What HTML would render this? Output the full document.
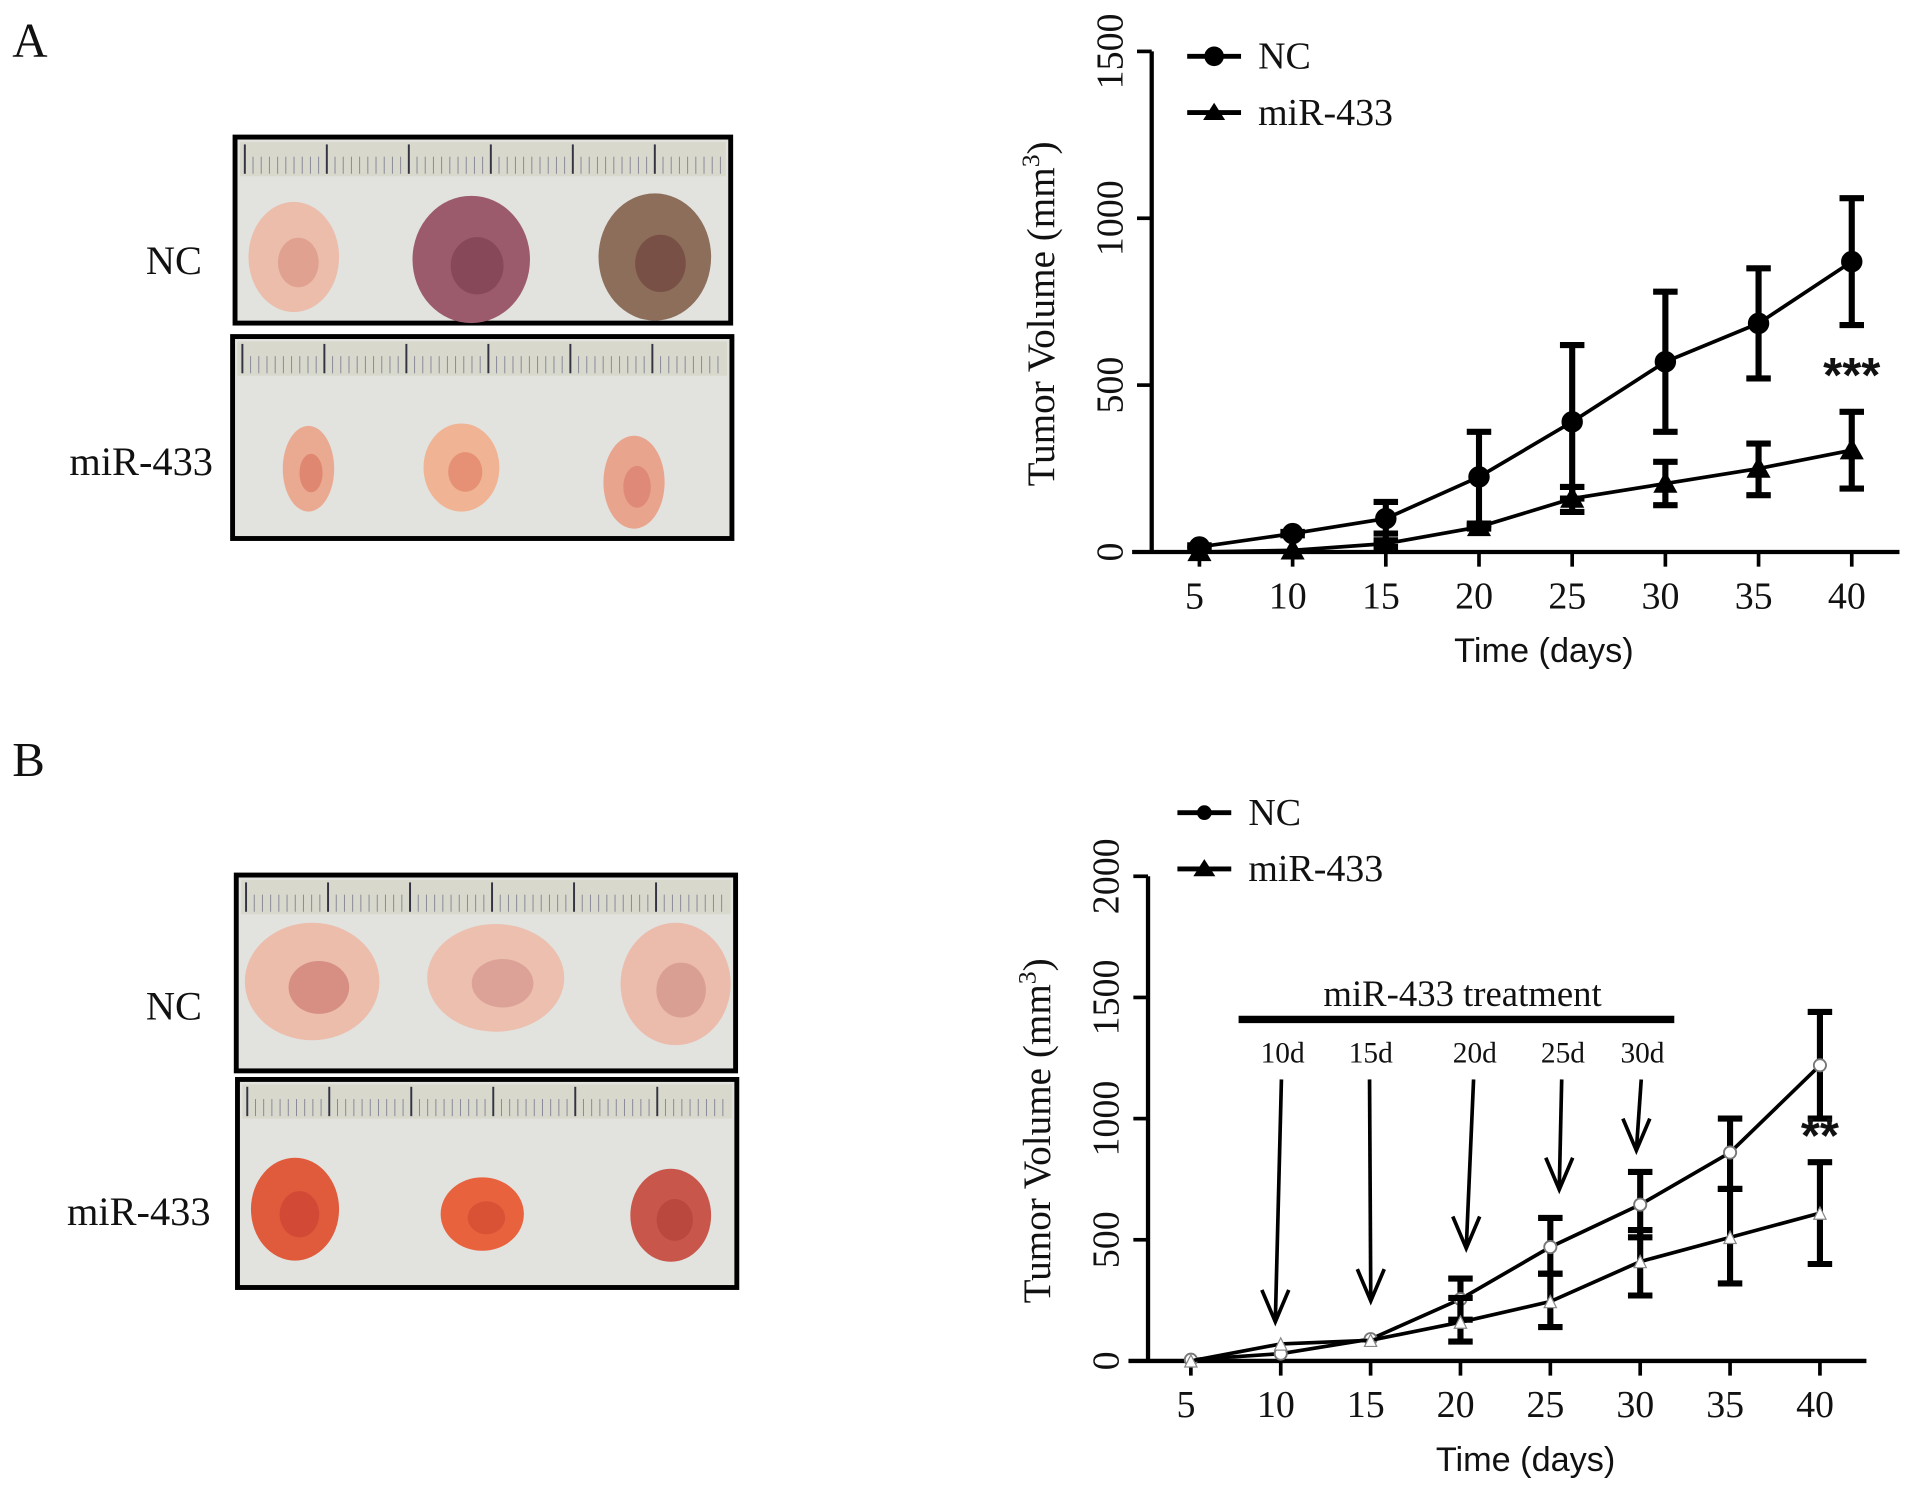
<!DOCTYPE html>
<html><head><meta charset="utf-8"><style>
html,body{margin:0;padding:0;background:#fff;}
svg{display:block;}
text{font-family:"Liberation Serif",serif;fill:#111;}
.sans{font-family:"Liberation Sans",sans-serif;}
</style></head><body>
<svg id="fig" width="1913" height="1498" viewBox="0 0 1563 1224" xmlns="http://www.w3.org/2000/svg">
<rect width="1563" height="1224" fill="#fff"/>
<text x="10" y="46" font-size="40">A</text>
<text x="10" y="634" font-size="40">B</text>
<g id="photos"></g>
<g id="chartA"></g>
<g id="chartB"></g>
</svg>
<script>
// ---------- Chart A data ----------
const daysA = [5,10,15,20,25,30,35,40];
const ncA = [15,55,100,225,390,570,685,870];
const ncAHi = [20,60,150,360,620,780,850,1060];
const ncALo = [10,50,55,85,160,360,520,680];
const mirA = [0,5,25,75,160,205,250,305];
const mirAHi = [0,5,35,80,195,270,325,420];
const mirALo = [0,5,15,70,120,140,170,190];
const yTicksA = [0,500,1000,1500];
// ---------- Chart B data ----------
const daysB = [5,10,15,20,25,30,35,40];
const ncB = [5,30,90,255,470,645,860,1220];
const ncBHi = [5,30,90,340,590,780,1000,1440];
const ncBLo = [5,30,90,170,360,510,710,1000];
const mirB = [0,70,85,160,245,410,510,610];
const mirBHi = [0,70,85,260,360,540,710,820];
const mirBLo = [0,70,85,80,140,270,320,400];
const yTicksB = [0,500,1000,1500,2000];
const treatDays = ["10d","15d","20d","25d","30d"];

const NS="http://www.w3.org/2000/svg";
function mk(parent, tag, attrs, name){
  const e=document.createElementNS(NS,tag);
  for(const k in attrs) e.setAttribute(k,attrs[k]);
  
  
  parent.appendChild(e); return e;
}

// ---------- Photos ----------
const ph=document.getElementById('photos');
function photo(x,y,w,h,tumors,name){
  const g=mk(ph,'g',{},name);
  mk(g,'rect',{x:x,y:y,width:w,height:h,fill:'#e2e2df',stroke:'#000','stroke-width':4},'photo-frame');
  mk(g,'rect',{x:x+4,y:y+4,width:w-8,height:28,fill:'#d8d9cc'},'ruler');
  for(let i=0;i<60;i++){
    const tx=x+8+i*6.7;
    if(tx>x+w-6) break;
    mk(g,'line',{x1:tx,y1:y+(i%10==0?6:16),x2:tx,y2:y+30,stroke:i%10==0?'#334':'#889',
      'stroke-width':i%10==0?1.6:0.8},'ruler-tick');
  }
  tumors.forEach(t=>{
    mk(g,'ellipse',{cx:t[0],cy:t[1],rx:t[2],ry:t[3],fill:t[4]},'tumor');
    mk(g,'ellipse',{cx:t[0]+t[2]*0.1,cy:t[1]+t[3]*0.1,rx:t[2]*0.45,ry:t[3]*0.45,fill:t[5],opacity:0.6},'tumor-spot');
  });
}
photo(192,112,405,152,[[240,210,37,45,'#ebbdaa','#d88d80'],[385,212,48,52,'#9c5b6c','#7a3c4c'],[535,210,46,52,'#8c6e5a','#6a3c38']],'photo-a-nc');
photo(190,275,408,165,[[252,383,21,35,'#eaaa92','#d8705e'],[377,382,31,36,'#f0b494','#e07860'],[518,394,25,38,'#e9a48e','#d87a6a']],'photo-a-mir433');
photo(193,715,408,160,[[255,802,55,48,'#ecbdab','#c87068'],[405,799,56,44,'#ecbfae','#d29088'],[552,804,45,50,'#ebbcac','#cf8c82']],'photo-b-nc');
photo(194,882,408,170,[[241,988,36,42,'#e05a3c','#c84030'],[394,992,34,30,'#e8623e','#d04830'],[548,993,33,38,'#c8564a','#b04038']],'photo-b-mir433');
[['NC',165,224,'label-a-nc'],['miR-433',174,388,'label-a-mir433'],['NC',165,833,'label-b-nc'],['miR-433',172,1001,'label-b-mir433']].forEach(l=>{
  const t=mk(ph,'text',{x:l[1],y:l[2],'font-size':33,'text-anchor':'end'},l[3]); t.textContent=l[0];
});

// ---------- chart builder ----------
function chart(gid,o){
  const g=document.getElementById(gid);
  const X=d=>o.x0+(d-5)*(o.x1-o.x0)/35;
  const Y=v=>o.yz-v*(o.yz-o.yt)/o.ymax;
  mk(g,'line',{x1:o.ax,y1:o.yt,x2:o.ax,y2:o.yz,stroke:'#000','stroke-width':3.5},'y-axis');
  mk(g,'line',{x1:o.ax-16,y1:o.yz,x2:o.xr,y2:o.yz,stroke:'#000','stroke-width':3.5},'x-axis');
  o.yticks.forEach(v=>{
    mk(g,'line',{x1:o.ax-12,y1:Y(v),x2:o.ax,y2:Y(v),stroke:'#000','stroke-width':3},'y-tick');
    const t=mk(g,'text',{x:0,y:0,'font-size':31,'text-anchor':'middle',transform:`translate(${o.ax-24},${Y(v)}) rotate(-90)`},'y-tick-label');
    t.textContent=v;
  });
  o.days.forEach(d=>{
    mk(g,'line',{x1:X(d),y1:o.yz,x2:X(d),y2:o.yz+12,stroke:'#000','stroke-width':3},'x-tick');
    const t=mk(g,'text',{x:X(d)-4,y:o.yz+46,'font-size':31,'text-anchor':'middle'},'x-tick-label');
    t.textContent=d;
  });
  const yl=mk(g,'text',{x:0,y:0,'font-size':32,'text-anchor':'middle',transform:`translate(${o.ax-80},${(o.yt+o.yz)/2+10}) rotate(-90)`},'y-axis-title');
  yl.innerHTML='Tumor Volume (mm<tspan dy="-12" font-size="21">3</tspan><tspan dy="12">)</tspan>';
  const xl=mk(g,'text',{x:(o.ax+o.xr)/2+15,y:o.yz+90,'font-size':28,'text-anchor':'middle',class:'sans'},'x-axis-title');
  xl.textContent='Time (days)';
  // series
  o.series.forEach(s=>{
    const sg=mk(g,'g',{},s.name);
    mk(sg,'polyline',{points:o.days.map((d,i)=>X(d)+','+Y(s.v[i])).join(' '),fill:'none',stroke:'#000','stroke-width':3},'series-line');
    o.days.forEach((d,i)=>{
      if(s.hi[i]-s.lo[i]>8){
        mk(sg,'line',{x1:X(d),y1:Y(s.hi[i]),x2:X(d),y2:Y(s.lo[i]),stroke:'#000','stroke-width':5},'error-bar');
        mk(sg,'line',{x1:X(d)-10,y1:Y(s.hi[i]),x2:X(d)+10,y2:Y(s.hi[i]),stroke:'#000','stroke-width':5},'error-cap');
        mk(sg,'line',{x1:X(d)-10,y1:Y(s.lo[i]),x2:X(d)+10,y2:Y(s.lo[i]),stroke:'#000','stroke-width':5},'error-cap');
      }
      const cx=X(d),cy=Y(s.v[i]);
      if(s.marker==='circle') mk(sg,'circle',{cx:cx,cy:cy,r:o.open?5:8,fill:o.open?'#fff':'#000',stroke:o.open?'#777':'#000','stroke-width':1.5},'point');
      else mk(sg,'polygon',{points:`${cx},${cy-(o.open?5:9)} ${cx-(o.open?5:9)},${cy+(o.open?5:7)} ${cx+(o.open?5:9)},${cy+(o.open?5:7)}`,fill:o.open?'#fff':'#000',stroke:o.open?'#888':'#000','stroke-width':1},'point');
    });
  });
  // legend
  o.legend.forEach((l,i)=>{
    const ly=o.ly+i*46;
    const lg=mk(g,'g',{},'legend-entry');
    mk(lg,'line',{x1:o.lx,y1:ly,x2:o.lx+44,y2:ly,stroke:'#000','stroke-width':4},'legend-line');
    const mx=o.lx+22;
    if(i===0) mk(lg,'circle',{cx:mx,cy:ly,r:o.open?6:8,fill:'#000'},'legend-marker');
    else mk(lg,'polygon',{points:`${mx},${ly-8} ${mx-9},${ly+6} ${mx+9},${ly+6}`,fill:'#000'},'legend-marker');
    const t=mk(lg,'text',{x:o.lx+58,y:ly+10,'font-size':31},'legend-label'); t.textContent=l;
  });
  const st=mk(g,'text',{x:X(40),y:Y(o.starV),'font-size':40,'font-weight':'bold','text-anchor':'middle',class:'sans'},'significance-marker');
  st.textContent=o.stars;
  return {X,Y,g};
}

chart('chartA',{x0:980,x1:1513,yz:451,yt:42,ymax:1500,ax:941,xr:1552,days:daysA,yticks:yTicksA,
  series:[{name:'series-nc',v:ncA,hi:ncAHi,lo:ncALo,marker:'circle'},{name:'series-mir433',v:mirA,hi:mirAHi,lo:mirALo,marker:'tri'}],
  legend:['NC','miR-433'],lx:970,ly:46,stars:'***',starV:480,open:false});

const B=chart('chartB',{x0:973,x1:1487,yz:1112,yt:716,ymax:2000,ax:938,xr:1525,days:daysB,yticks:yTicksB,
  series:[{name:'series-nc',v:ncB,hi:ncBHi,lo:ncBLo,marker:'circle'},{name:'series-mir433',v:mirB,hi:mirBHi,lo:mirBLo,marker:'tri'}],
  legend:['NC','miR-433'],lx:962,ly:664,stars:'**',starV:860,open:true});

// treatment annotation
const tg=mk(B.g,'g',{},'treatment-annotation');
mk(tg,'line',{x1:1012,y1:833,x2:1368,y2:833,stroke:'#000','stroke-width':6},'treatment-bar');
const tt=mk(tg,'text',{x:1195,y:822,'font-size':30,'text-anchor':'middle'},'treatment-label'); tt.textContent='miR-433 treatment';
const arrowLab=[1048,1120,1205,1277,1342];
const arrowEnd=[[1042,1080],[1120,1063],[1198,1020],[1274,972],[1337,940]];
treatDays.forEach((d,i)=>{
  const t=mk(tg,'text',{x:arrowLab[i],y:868,'font-size':24,'text-anchor':'middle'},'arrow-label'); t.textContent=d;
  const ex=arrowEnd[i][0],ey=arrowEnd[i][1],sx=arrowLab[i]-1,sy=882;
  mk(tg,'line',{x1:sx,y1:sy,x2:ex,y2:ey,stroke:'#000','stroke-width':3},'arrow');
  mk(tg,'polyline',{points:`${ex-11},${ey-26} ${ex},${ey} ${ex+11},${ey-26}`,fill:'none',stroke:'#000','stroke-width':3},'arrow-head');
});
</script>
</body></html>
